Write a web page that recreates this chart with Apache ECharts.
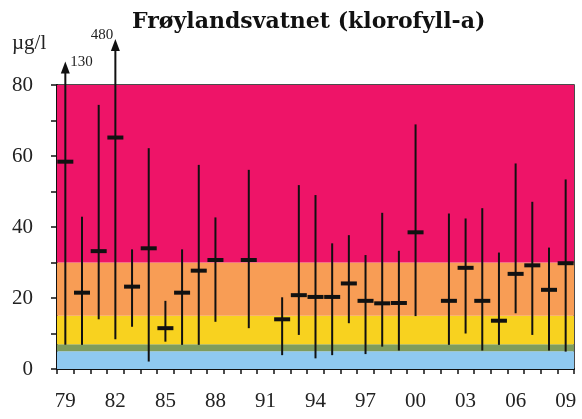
<!DOCTYPE html>
<html>
<head>
<meta charset="utf-8">
<title>Frøylandsvatnet (klorofyll-a)</title>
<script src="https://cdn.jsdelivr.net/npm/echarts@6/dist/echarts.min.js"></script>
<style>
  html, body { margin: 0; padding: 0; background: #fff; }
  #chart { width: 582px; height: 419px; }
</style>
</head>
<body>
<div id="chart"></div>
<script>
// Årlige målinger av klorofyll-a (µg/l): min, middel og maks per år
const years = ['79','80','81','82','83','84','85','86','87','88','89','90','91','92','93','94','95','96','97','98','99','00','01','02','03','04','05','06','07','08','09'];
const minValues  = [6.8, 6.8, 14.0, 8.4, 11.9, 2.1, 7.7, 6.8, 6.8, 13.3, null, 11.5, null, 3.9, 9.6, 3.0, 3.9, 12.9, 4.2, 6.3, 5.2, 14.9, null, 6.8, 10.0, 5.2, 6.8, 15.7, 9.6, 5.2, 4.9];
const meanValues = [58.4, 21.5, 33.2, 65.2, 23.2, 34.0, 11.5, 21.5, 27.7, 30.7, null, 30.7, null, 14.0, 20.8, 20.3, 20.3, 24.1, 19.2, 18.5, 18.6, 38.5, null, 19.2, 28.5, 19.2, 13.6, 26.8, 29.2, 22.3, 29.8];
const maxValues  = [130, 42.9, 74.4, 480, 33.7, 62.2, 19.2, 33.7, 57.5, 42.7, null, 56.1, null, 20.2, 51.8, 49.0, 35.4, 37.7, 32.1, 44.0, 33.3, 68.9, null, 43.8, 42.4, 45.3, 32.8, 57.9, 47.1, 34.2, 53.4];

// Tilstandsklasser (bakgrunnsfelt)
const classEdges  = [0, 5, 7, 15, 30, 80];
const classColors = ['#8fc9f0', '#7f9c5c', '#f8d21f', '#f89d55', '#ee1468'];

const yTicks = [0, 20, 40, 60, 80];
const Y_MAX = 80;
const SERIF = '"Liberation Serif", "DejaVu Serif", serif';

const rows = [];
years.forEach((y, i) => {
  if (meanValues[i] != null) rows.push([i, minValues[i], meanValues[i], maxValues[i]]);
});

const bandAreas = classColors.map((c, k) => [
  { yAxis: classEdges[k], itemStyle: { color: c } },
  { yAxis: classEdges[k + 1] }
]);

function renderItem(params, api) {
  const i = api.value(0);
  const lo = api.value(1), mid = api.value(2), hi = api.value(3);
  const pLo = api.coord([i, lo]);
  const x = pLo[0];
  const yMid = api.coord([i, mid])[1];
  const yCap = api.coord([i, Y_MAX])[1];
  const children = [];
  let yTop = api.coord([i, hi])[1];
  let lineTop = yTop;
  if (hi > Y_MAX) {
    // verdier utenfor skalaen: pil over diagrammet med tallverdi
    const ext = 15 + 12 * Math.log2(hi / Y_MAX);
    yTop = yCap - ext;
    lineTop = yTop + 8;
    children.push({
      type: 'polygon',
      shape: { points: [[x - 4.5, yTop + 12], [x, yTop], [x + 4.5, yTop + 12]] },
      style: { fill: '#111' }
    });
    const leftSide = i > 0;
    children.push({
      type: 'text',
      style: {
        text: String(hi),
        x: leftSide ? x - 2 : x + 5,
        y: leftSide ? yTop - 4 : yTop,
        align: leftSide ? 'right' : 'left',
        verticalAlign: 'middle',
        font: '15px ' + SERIF,
        fill: '#222'
      }
    });
  }
  children.push({
    type: 'line',
    shape: { x1: x, y1: pLo[1], x2: x, y2: lineTop },
    style: { stroke: '#111', lineWidth: 2 }
  });
  children.push({
    type: 'rect',
    shape: { x: x - 8, y: yMid - 2, width: 16, height: 4 },
    style: { fill: '#111' }
  });
  return { type: 'group', children };
}

const chart = echarts.init(document.getElementById('chart'), null, { renderer: 'canvas' });
chart.setOption({
  animation: false,
  backgroundColor: '#fff',
  grid: {
    left: 57, right: 8, top: 85, bottom: 50,
    show: true, borderColor: '#111', borderWidth: 1.5, backgroundColor: 'transparent'
  },
  graphic: [
    {
      type: 'text', left: 132, top: 11,
      style: { text: 'Frøylandsvatnet (klorofyll-a)', font: 'bold 22px "DejaVu Serif", serif', fill: '#111' }
    },
    {
      type: 'text', left: 12, top: 33,
      style: { text: 'µg/l', font: '21px ' + SERIF, fill: '#222' }
    }
  ],
  xAxis: {
    type: 'category',
    data: years,
    boundaryGap: true,
    axisLine: { show: true, lineStyle: { color: '#111', width: 2 } },
    axisTick: { show: true, interval: 0, length: 5, lineStyle: { color: '#111', width: 1.5 } },
    axisLabel: { interval: 2, margin: 22, color: '#222', fontFamily: SERIF, fontSize: 21 },
    splitLine: { show: false }
  },
  yAxis: {
    type: 'value',
    min: 0, max: Y_MAX, interval: 10,
    axisLine: { show: true, lineStyle: { color: '#111', width: 2 } },
    axisTick: { show: true, length: 6, lineStyle: { color: '#111', width: 1.5 } },
    axisLabel: {
      margin: 24, color: '#222', fontFamily: SERIF, fontSize: 21,
      formatter: v => (yTicks.includes(v) ? String(v) : '')
    },
    splitLine: { show: false }
  },
  series: [
    {
      type: 'line',
      data: [],
      z: 1,
      silent: true,
      markArea: { silent: true, data: bandAreas }
    },
    {
      type: 'custom',
      z: 5,
      clip: false,
      renderItem,
      encode: { x: 0, y: [1, 2, 3] },
      data: rows
    }
  ]
});
</script>
</body>
</html>
